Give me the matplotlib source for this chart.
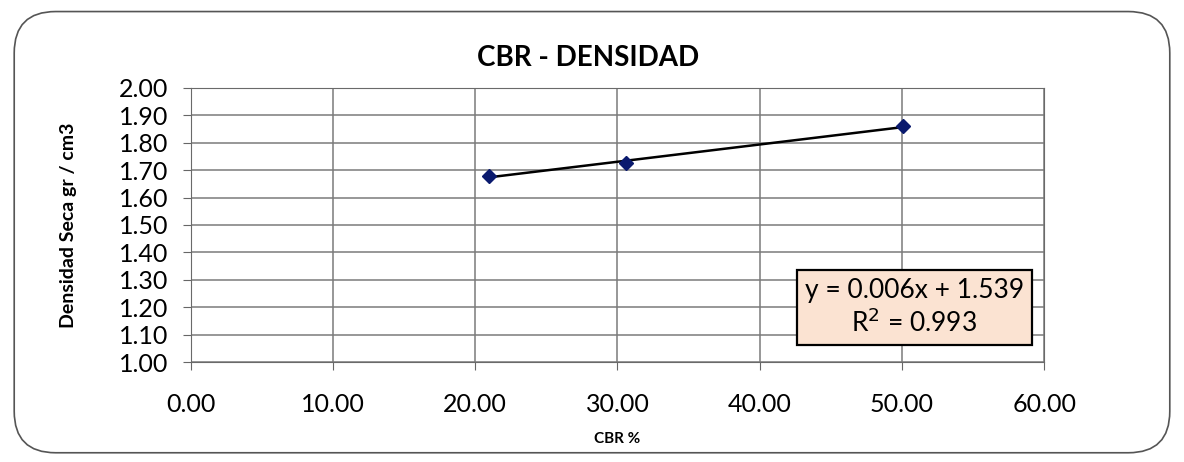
import matplotlib.pyplot as plt
import numpy as np
from matplotlib.patches import FancyBboxPatch

cbr = [21.0, 30.6, 50.1]
densidad = [1.68, 1.725, 1.86]
x_ticks = [0, 10, 20, 30, 40, 50, 60]
y_ticks = [1.00, 1.10, 1.20, 1.30, 1.40, 1.50, 1.60, 1.70, 1.80, 1.90, 2.00]

plt.rcParams['font.family'] = ['Lato', 'DejaVu Sans']

fig = plt.figure(figsize=(11.84, 4.62), dpi=100)
ax = fig.add_axes([0.161, 0.216, 0.721, 0.594])

# rounded frame round the whole chart
frame = FancyBboxPatch((0.012, 0.02), 0.976, 0.955, boxstyle='round,pad=0,rounding_size=0.035',
                       transform=fig.transFigure, facecolor='none', edgecolor='#555555',
                       linewidth=1.2, mutation_aspect=1184 / 462)
fig.patches.append(frame)

# linear fit over the data range
coef = np.polyfit(cbr, densidad, 1)
xs = np.array([min(cbr), max(cbr)])
ax.plot(xs, np.polyval(coef, xs), color='black', linewidth=1.8, zorder=3)
ax.plot(cbr, densidad, linestyle='none', marker='D', markersize=7,
        color='#0a1a6e', zorder=4)

ax.set_xlim(0, 60)
ax.set_ylim(1.0, 2.0)
ax.set_xticks(x_ticks)
ax.set_yticks(y_ticks)
ax.set_xticklabels([f'{v:.2f}' for v in x_ticks])
ax.set_yticklabels([f'{v:.2f}' for v in y_ticks])
ax.tick_params(axis='y', labelsize=18, length=6, color='#666666', pad=10)
ax.tick_params(axis='x', labelsize=18, length=6, color='#666666', pad=16)
ax.grid(True, color='#7a7a7a', linewidth=1.1)
for s in ax.spines.values():
    s.set_color('#6a6a6a')

ax.set_title('CBR - DENSIDAD', fontsize=20, fontweight='bold', pad=16, x=0.466)
ax.set_xlabel('CBR %', fontsize=11, fontweight='bold', labelpad=12)
ax.set_ylabel('Densidad Seca gr / cm3', fontsize=14, fontweight='bold', labelpad=30)

ax.text(0.848, 0.20, 'y = 0.006x + 1.539\nR$^2$ = 0.993', transform=ax.transAxes,
        ha='center', va='center', fontsize=19, linespacing=1.25,
        bbox=dict(boxstyle='square,pad=0.3', facecolor='#fbe3d2', edgecolor='black',
                  linewidth=1.6), zorder=5)

fig.savefig('out.png', dpi=100)
